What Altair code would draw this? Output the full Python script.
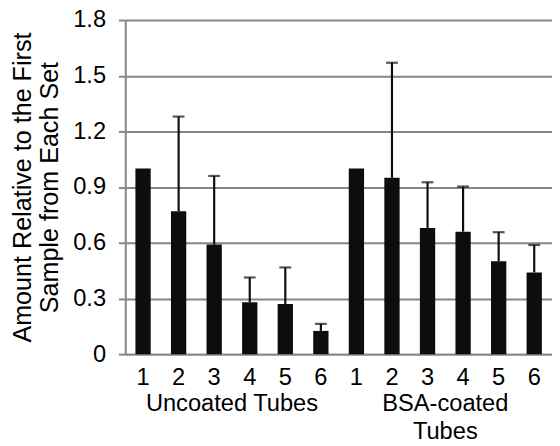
import altair as alt
import pandas as pd

# Data
keys = ["U1", "U2", "U3", "U4", "U5", "U6", "B1", "B2", "B3", "B4", "B5", "B6"]
samples = ["1", "2", "3", "4", "5", "6", "1", "2", "3", "4", "5", "6"]
groups = ["Uncoated Tubes"] * 6 + ["BSA-coated Tubes"] * 6
means = [1.00, 0.77, 0.59, 0.28, 0.27, 0.125, 1.00, 0.95, 0.68, 0.66, 0.50, 0.44]
uppers = [1.00, 1.28, 0.96, 0.413, 0.467, 0.163, 1.00, 1.57, 0.926, 0.903, 0.657, 0.588]

group_names = ["Uncoated Tubes", "BSA-coated\nTubes"]
group_anchor = ["U3", "B3"]

y_ticks = [0, 0.3, 0.6, 0.9, 1.2, 1.5, 1.8]

df = pd.DataFrame({"key": keys, "sample": samples, "group": groups,
                   "mean": means, "upper": uppers})
edf = df[df["upper"] > df["mean"]]
gdf = pd.DataFrame({"key": group_anchor, "name": group_names})

W, H = 433, 339
FONT = "Liberation Sans"
GRAY = "#868686"

xscale = alt.Scale(domain=keys, paddingInner=0.57)
yscale = alt.Scale(domain=[0, 1.8], nice=False)

x_enc = alt.X("key:N", scale=xscale, sort=keys,
              axis=alt.Axis(title=None, labelAngle=0, ticks=False, tickSize=0,
                            labelPadding=12, labelFontSize=24, labelFont=FONT,
                            labelColor="black", domainColor=GRAY, domainWidth=2,
                            labelExpr="substring(datum.label, 1)"))

bars = alt.Chart(df).mark_bar(color="#0d0d0d").encode(
    x=x_enc,
    y=alt.Y("mean:Q", scale=yscale,
            axis=alt.Axis(values=y_ticks, format=".1~f",
                          title=["Amount Relative to the First", "Sample from Each Set"],
                          titleFont=FONT, titleFontSize=25.5, titleFontWeight="normal",
                          titleColor="black", titlePadding=10,
                          labelFont=FONT, labelFontSize=24, labelColor="black",
                          labelPadding=13, tickSize=7, tickColor=GRAY, tickWidth=2,
                          domainColor=GRAY, domainWidth=2,
                          grid=True, gridColor=GRAY, gridWidth=2)),
)

err = alt.Chart(edf).mark_rule(color="#0d0d0d", strokeWidth=2.2).encode(
    x=alt.X("key:N", scale=xscale, sort=keys),
    y=alt.Y("mean:Q", scale=yscale),
    y2="upper:Q",
)

caps = alt.Chart(edf).mark_tick(color="#0d0d0d", size=12, thickness=2.2).encode(
    x=alt.X("key:N", scale=xscale, sort=keys),
    y=alt.Y("upper:Q", scale=yscale),
)

glabels = alt.Chart(gdf).mark_text(fontSize=24, font=FONT, color="black",
                                   baseline="middle", dx=W / 24, dy=1, lineBreak="\n",
                                   lineHeight=28).encode(
    x=alt.X("key:N", scale=xscale, sort=keys),
    y=alt.value(H + 50),
    text="name:N",
)

chart = alt.layer(bars, err, caps, glabels).properties(
    width=W, height=H,
    autosize=alt.AutoSizeParams(type="none"),
    padding={"left": 119, "top": 9, "right": 0, "bottom": 90},
).configure_view(stroke=None).configure_axis(labelFlush=False)

chart.save("out.html", embed_options={"renderer": "svg", "actions": False})
